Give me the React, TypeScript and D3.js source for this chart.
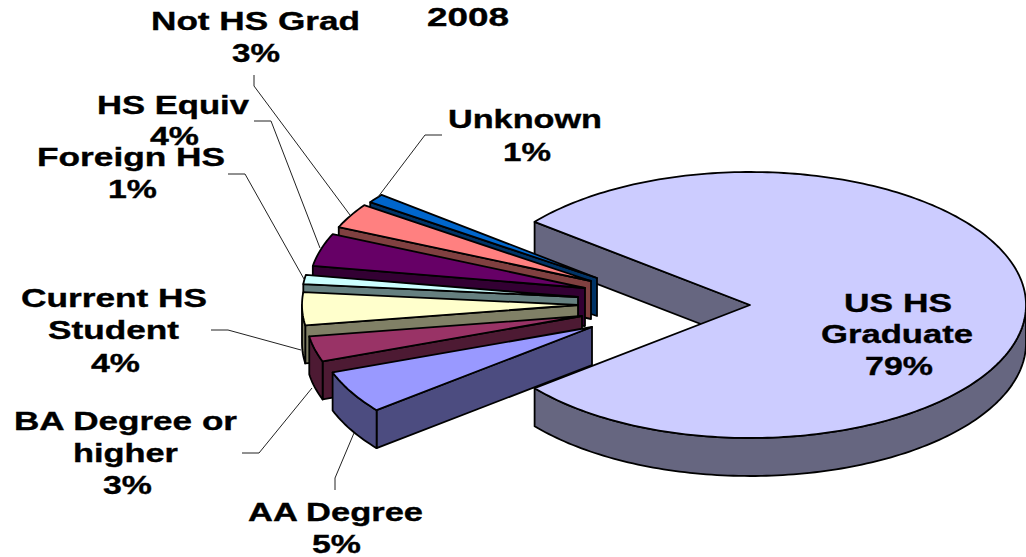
import React from "react";
import * as d3 from "d3";

const categories = ["US HS Graduate", "AA Degree", "BA Degree or higher", "Current HS Student", "Foreign HS", "HS Equiv", "Not HS Grad", "Unknown"];
const values = [78.5, 5.2, 3.1, 4.0, 1.1, 4.0, 3.0, 1.1];
const topColors = ["#CCCCFF", "#9999FF", "#993366", "#FFFFCC", "#CCFFFF", "#660066", "#FF8080", "#0066CC"];
const sideColors = ["#666680", "#4C4C80", "#4D1A33", "#808066", "#668080", "#330033", "#804040", "#003366"];
const title = "2008";

// how far each slice is pulled out of the pie, in pixels
const explodeX = [0, -158, -168, -172, -172, -165, -159, -153];
const explodeY = [0, 22, 11, 0, -8, -17, -24, -27];

const labelLines = [
  ["US HS", "Graduate"],
  ["AA Degree"],
  ["BA Degree or", "higher"],
  ["Current HS", "Student"],
  ["Foreign HS"],
  ["HS Equiv"],
  ["Not HS Grad"],
  ["Unknown"],
];
// label layout per category: one [left, right, baseline] per line, percent line last
const labelBoxes = [
  [[844, 952, 312], [821, 973, 343], [865, 933, 375]],
  [[248, 423, 521], [312, 361, 553]],
  [[14, 237, 430], [73, 178, 462], [103, 152, 494]],
  [[21, 207, 307], [48, 179, 339], [91, 140, 372]],
  [[37, 225, 166], [108, 157, 198]],
  [[97, 249, 114], [150, 199, 145]],
  [[151, 360, 30], [232, 280, 62]],
  [[448, 602, 128], [503, 551, 161]],
];
const leaders = [
  null,
  [[335, 490], [335, 478], [354, 433]],
  [[242, 453], [259, 453], [312, 388]],
  [[211, 330], [228, 330], [301, 350]],
  [[228, 174], [245, 174], [304, 279]],
  [[254, 121], [271, 121], [320, 248]],
  [[254, 75], [254, 86], [350, 215]],
  [[442, 135], [425, 135], [378, 197]],
];

const CX = 750, CY = 305, RX = 276, RY = 133, DEPTH = 38;
const FONT = "'Liberation Sans', Arial, sans-serif";

const bigSweep = (Math.PI * 2 * values[0]) / d3.sum(values);
// the big slice is centred on the right-hand side of the ellipse
const pie = d3
  .pie<number>()
  .sort(null)
  .value((d) => d)
  .startAngle(-bigSweep / 2)
  .endAngle(Math.PI * 2 - bigSweep / 2);

const line = d3.line<[number, number]>();

function arcPoints(ax: number, ay: number, t0: number, t1: number, dy = 0): [number, number][] {
  const n = Math.max(2, Math.ceil(Math.abs(t1 - t0) / 0.02));
  return d3.range(n + 1).map((i) => {
    const t = t0 + ((t1 - t0) * i) / n;
    return [ax + RX * Math.cos(t), ay + RY * Math.sin(t) + dy] as [number, number];
  });
}

function Slice({ i, start, end }: { i: number; start: number; end: number }) {
  const ax = CX + explodeX[i];
  const ay = CY + explodeY[i];
  const rim = arcPoints(ax, ay, start, end);
  const topPath = line([[ax, ay], ...rim])! + "Z";
  const corner = rim[0];
  // radial wall on the side of the slice's start edge
  const wall =
    line([
      [ax, ay],
      corner,
      [corner[0], corner[1] + DEPTH],
      [ax, ay + DEPTH],
    ])! + "Z";
  // rim wall: only where the outer edge faces the viewer (sin t > 0)
  const rimFrom = Math.max(start, 0);
  const rimTo = Math.min(end, Math.PI);
  const rimWall =
    rimTo > rimFrom
      ? line([...arcPoints(ax, ay, rimFrom, rimTo), ...arcPoints(ax, ay, rimTo, rimFrom, DEPTH)])! + "Z"
      : null;
  const common = { stroke: "#000", strokeWidth: 1.8, strokeLinejoin: "round" as const, fill: sideColors[i] };
  return (
    <g>
      <path d={wall} {...common} />
      {rimWall && <path d={rimWall} {...common} />}
      <path d={topPath} {...common} fill={topColors[i]} />
    </g>
  );
}

function Lab({ text, box }: { text: string; box: number[] }) {
  return (
    <text
      x={box[0]}
      y={box[2]}
      textLength={box[1] - box[0]}
      lengthAdjust="spacingAndGlyphs"
      fontFamily={FONT}
      fontWeight="bold"
      fontSize={25}
      fill="#000"
      stroke="#000"
      strokeWidth={0.35}
    >
      {text}
    </text>
  );
}

export default function App() {
  const arcs = pie(values);
  // back to front: big slice, then the small ones from the top of the fan down
  const order = [0, ...d3.range(values.length - 1, 0, -1)];
  return (
    <svg
      width={1026}
      height={557}
      viewBox="0 0 1026 557"
      style={{ position: "absolute", left: 0, top: 0, background: "#fff" }}
    >
      {order.map((i) => (
        <Slice key={categories[i]} i={i} start={arcs[i].startAngle} end={arcs[i].endAngle} />
      ))}
      {leaders.map((l, i) =>
        l ? <path key={i} d={line(l as [number, number][])!} fill="none" stroke="#222" strokeWidth={1} /> : null
      )}
      {categories.map((c, i) => {
        const lines = [...labelLines[i], `${Math.round(values[i])}%`];
        return lines.map((t, j) => <Lab key={c + j} text={t} box={labelBoxes[i][j]} />);
      })}
      <Lab text={title} box={[427, 509, 26]} />
    </svg>
  );
}
